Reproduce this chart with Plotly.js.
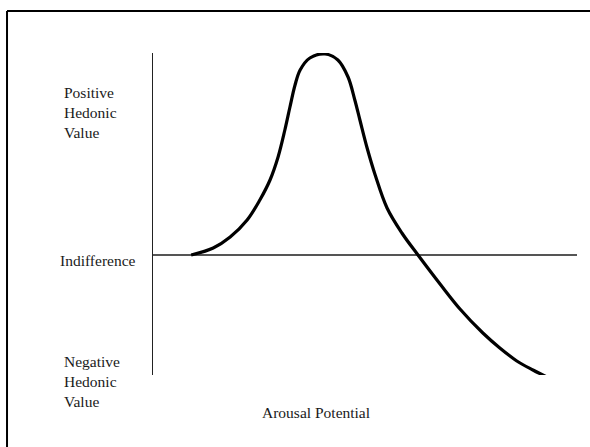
<!DOCTYPE html>
<html>
<head>
<meta charset="utf-8">
<script src="https://cdn.plot.ly/plotly-3.0.1.min.js"></script>
<style>html,body{margin:0;padding:0;background:#fff;}#chart{width:590px;height:447px;}</style>
</head>
<body>
<div id="chart"></div>
<script>
// Arousal potential (abstract units) and hedonic value (abstract units, 0 = indifference)
var arousal = [0.90, 1.42, 1.82, 2.22, 2.52, 2.76, 2.95, 3.11, 3.23, 3.35, 3.47, 3.70, 4.06, 4.36, 4.60, 4.76, 4.88, 5.05, 5.24, 5.52, 5.87, 6.25, 6.77, 7.24, 7.78, 8.18, 8.58, 8.96, 9.29];
var hedonic = [0.00, 0.035, 0.09, 0.175, 0.275, 0.375, 0.49, 0.625, 0.74, 0.85, 0.925, 0.985, 1.005, 0.975, 0.89, 0.775, 0.675, 0.535, 0.40, 0.235, 0.11, 0.00, -0.145, -0.27, -0.39, -0.465, -0.53, -0.575, -0.61];
var labelPositive = "Positive<br>Hedonic<br>Value";
var labelNegative = "Negative<br>Hedonic<br>Value";
var labelIndifference = "Indifference";
var labelX = "Arousal Potential";

var serif = {family: "Liberation Serif, Times New Roman, serif", size: 15.5, color: "#1a1a1a"};

var trace = {
  x: arousal, y: hedonic, type: "scatter", mode: "lines",
  line: {shape: "spline", smoothing: 1.0, color: "#000", width: 3.2},
  hoverinfo: "skip"
};

var layout = {
  width: 590, height: 447,
  margin: {l: 153, r: 13, t: 53, b: 72, pad: 0},
  paper_bgcolor: "#fff", plot_bgcolor: "#fff",
  showlegend: false,
  xaxis: {range: [0, 10], showgrid: false, zeroline: false, showticklabels: false, ticks: "", showline: false, fixedrange: true},
  yaxis: {range: [-0.6, 1.01], showgrid: false, zeroline: true, zerolinecolor: "#555", zerolinewidth: 1.5,
          showticklabels: false, ticks: "", showline: true, linecolor: "#222", linewidth: 1.5, fixedrange: true},
  shapes: [
    {type: "line", xref: "paper", yref: "paper", x0: -0.3443, x1: 1.1, y0: 1.1304, y1: 1.1304, line: {color: "#000", width: 2}},
    {type: "line", xref: "paper", yref: "paper", x0: -0.3443, x1: -0.3443, y0: -0.3, y1: 1.1304, line: {color: "#000", width: 2}}
  ],
  annotations: [
    {text: labelPositive, xref: "paper", yref: "paper", x: -0.2146, y: 0.8137, xanchor: "left", yanchor: "middle", align: "left", showarrow: false, font: serif},
    {text: labelIndifference, xref: "paper", yref: "paper", x: -0.0354, y: 0.357, xanchor: "right", yanchor: "middle", align: "right", showarrow: false, font: serif},
    {text: labelNegative, xref: "paper", yref: "paper", x: -0.2146, y: -0.0217, xanchor: "left", yanchor: "middle", align: "left", showarrow: false, font: serif},
    {text: labelX, xref: "paper", yref: "paper", x: 0.384, y: -0.115, xanchor: "center", yanchor: "middle", align: "center", showarrow: false, font: serif}
  ]
};

Plotly.newPlot("chart", [trace], layout, {displayModeBar: false, staticPlot: true});
</script>
</body>
</html>
